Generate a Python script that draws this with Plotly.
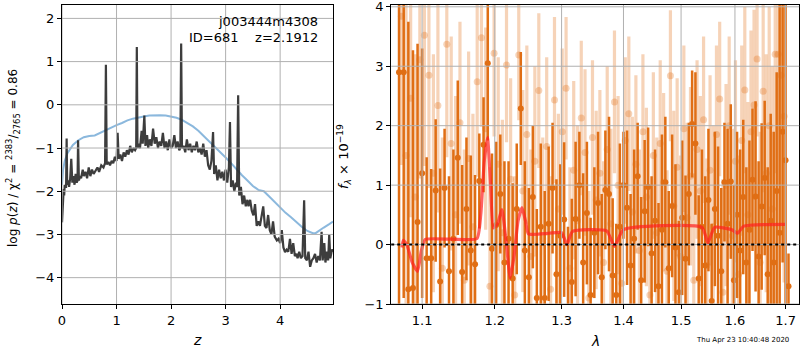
import plotly.graph_objects as go

# ---------------- left panel: log p(z) ----------------
pz_z = [0.00, 0.01, 0.02, 0.03, 0.04, 0.05, 0.06, 0.075, 0.085, 0.095, 0.11, 0.13, 0.15, 0.17, 0.19,
        0.21, 0.23, 0.25, 0.27, 0.285, 0.295, 0.31, 0.33, 0.35, 0.38, 0.40, 0.43, 0.46, 0.49, 0.52,
        0.55, 0.58, 0.62, 0.65, 0.68, 0.72, 0.76, 0.79, 0.805, 0.82, 0.85, 0.88, 0.91, 0.94, 0.97,
        1.00, 1.02, 1.04, 1.07, 1.10, 1.13, 1.16, 1.19, 1.22, 1.25, 1.28, 1.31, 1.34, 1.36, 1.372,
        1.384, 1.40, 1.43, 1.46, 1.48, 1.51, 1.53, 1.56, 1.58, 1.61, 1.64, 1.67, 1.70, 1.73, 1.76,
        1.79, 1.82, 1.85, 1.88, 1.91, 1.94, 1.97, 2.00, 2.03, 2.06, 2.09, 2.12, 2.15, 2.17, 2.185,
        2.20, 2.23, 2.26, 2.29, 2.32, 2.35, 2.38, 2.41, 2.44, 2.47, 2.50, 2.53, 2.56, 2.59, 2.62,
        2.65, 2.68, 2.71, 2.74, 2.77, 2.79, 2.82, 2.85, 2.88, 2.91, 2.94, 2.97, 3.00, 3.03, 3.06,
        3.08, 3.10, 3.13, 3.16, 3.19, 3.21, 3.23, 3.25, 3.28, 3.31, 3.34, 3.37, 3.40, 3.42, 3.45,
        3.48, 3.51, 3.54, 3.57, 3.60, 3.63, 3.66, 3.69, 3.72, 3.75, 3.78, 3.81, 3.84, 3.87, 3.90,
        3.94, 3.97, 4.00, 4.03, 4.06, 4.09, 4.12, 4.15, 4.18, 4.21, 4.24, 4.27, 4.30, 4.32, 4.35,
        4.38, 4.41, 4.44, 4.46, 4.49, 4.52, 4.55, 4.58, 4.61, 4.64, 4.67, 4.70, 4.73, 4.76, 4.78,
        4.81, 4.83, 4.86, 4.88, 4.90, 4.92, 4.95, 4.97]
pz_log = [-2.72, -2.30, -2.05, -1.95, -2.10, -1.85, -1.90, -1.90, -0.78, -1.85, -1.75, -1.90, -1.70, -1.25, -1.80,
          -1.65, -1.85, -1.60, -1.80, -1.75, -0.82, -1.75, -1.65, -1.70, -1.50, -1.65, -1.55, -1.70, -1.45, -1.65,
          -1.50, -1.60, -1.50, -1.45, -1.55, -1.40, -1.45, -1.35, 0.93, -1.38, -1.32, -1.40, -1.30, -1.35, -1.20,
          -1.30, -0.65, -1.25, -1.15, -1.30, -1.10, -1.20, -1.05, -1.15, -0.95, -1.10, -1.00, -1.05, -1.00, 1.34,
          -1.00, -0.90, -1.00, -0.60, -0.90, -0.25, -0.95, -0.70, -1.00, -0.80, -0.95, -0.55, -0.90, -0.75, -1.00,
          -0.85, -0.95, -0.65, -1.00, -0.85, -1.05, -0.80, -1.00, -0.95, -0.70, -1.00, -0.85, -1.05, -1.00, 1.42,
          -1.00, -0.95, -1.10, -0.80, -1.05, -0.90, -1.10, -0.95, -1.05, -0.85, -1.10, -1.00, -1.15, -0.90, -1.20,
          -1.05, -1.40, -1.50, -1.30, -0.63, -1.60, -1.40, -1.75, -1.50, -1.70, -1.55, -1.75, -1.50, -1.80, -1.45,
          -0.40, -1.90, -1.75, -2.00, -1.80, -1.90, 0.22, -2.10, -1.90, -2.30, -2.10, -2.35, -2.20, -2.35, -2.20,
          -2.45, -2.56, -2.30, -2.80, -2.70, -2.80, -2.60, -2.35, -2.80, -2.85, -2.55, -2.90, -3.00, -2.70, -3.05,
          -3.14, -3.10, -3.20, -2.90, -3.30, -3.41, -3.35, -3.40, -3.10, -3.45, -3.20, -3.50, -3.45, -3.55, -3.40,
          -3.55, -3.50, -2.21, -3.55, -3.60, -3.40, -3.75, -3.60, -3.55, -3.45, -3.65, -3.50, -3.60, -2.94, -3.60,
          -3.20, -3.65, -3.40, -3.60, -3.00, -3.55, -3.35, -3.40]

chi_z = [0.0, 0.02, 0.05, 0.1, 0.2, 0.3, 0.4, 0.5, 0.6, 0.7, 0.8, 0.9, 1.0, 1.1, 1.2, 1.3, 1.4, 1.5, 1.6, 1.7,
         1.8, 1.9, 2.0, 2.1, 2.2, 2.3, 2.4, 2.5, 2.6, 2.7, 2.8, 2.9, 3.0, 3.1, 3.2, 3.3, 3.4, 3.5, 3.6,
         3.7, 3.8, 3.9, 4.0, 4.1, 4.2, 4.3, 4.4, 4.5, 4.6, 4.65, 4.7, 4.8, 4.9, 4.97]
chi_val = [-1.85, -1.50, -1.30, -1.12, -0.93, -0.82, -0.75, -0.72, -0.71, -0.65, -0.58, -0.53, -0.47, -0.42, -0.36,
           -0.32, -0.29, -0.27, -0.25, -0.24, -0.24, -0.25, -0.27, -0.30, -0.35, -0.42, -0.50, -0.60, -0.72,
           -0.85, -0.97, -1.10, -1.22, -1.35, -1.50, -1.63, -1.75, -1.88, -1.97, -2.00, -2.12, -2.25, -2.37,
           -2.50, -2.60, -2.72, -2.83, -2.92, -2.97, -2.97, -2.92, -2.84, -2.76, -2.70]

left_xticks = [0, 1, 2, 3, 4]
left_yticks = [-4, -3, -2, -1, 0, 1, 2]

# ---------------- right panel: spectrum ----------------
dark_wave = [1.070, 1.076, 1.082, 1.088, 1.094, 1.100, 1.106, 1.112, 1.118, 1.124, 1.130, 1.136, 1.142, 1.148,
             1.154, 1.160, 1.166, 1.172, 1.178, 1.184, 1.190, 1.196, 1.202, 1.208, 1.214, 1.220, 1.226, 1.232,
             1.238, 1.244, 1.250, 1.256, 1.262, 1.268, 1.274, 1.280, 1.286, 1.292, 1.298, 1.304, 1.310, 1.316,
             1.322, 1.328, 1.334, 1.340, 1.346, 1.352, 1.358, 1.364, 1.370, 1.376, 1.382, 1.388, 1.394, 1.400,
             1.406, 1.412, 1.418, 1.424, 1.430, 1.436, 1.442, 1.448, 1.454, 1.460, 1.466, 1.472, 1.478, 1.484,
             1.490, 1.496, 1.502, 1.508, 1.514, 1.520, 1.526, 1.532, 1.538, 1.544, 1.550, 1.556, 1.562, 1.568,
             1.574, 1.580, 1.586, 1.592, 1.598, 1.604, 1.610, 1.616, 1.622, 1.628, 1.634, 1.640, 1.646, 1.652,
             1.658, 1.664, 1.670, 1.676, 1.682, 1.688, 1.694, 1.700, 1.706]
dark_flux = [2.90, 2.90, -0.75, -0.73, 0.38, 1.20, -0.23, -0.23, 0.91, -0.62, 0.95, -0.45, 0.10, 1.46,
             -0.46, 0.60, -0.10, -0.33, 1.07, 1.68, 3.05, -0.07, 0.33, 0.85, -0.30, 0.10, -0.57, 0.60,
             2.29, -0.10, -0.55, 0.80, -0.90, 0.30, -0.90, 0.35, 0.95, -0.50, 0.15, 0.42, -1.20, -0.63,
             0.43, 1.00, -0.30, 0.53, -0.85, 0.20, 0.70, -0.55, 0.92, 0.85, -0.52, -0.85, 0.30, 1.00,
             0.62, -0.35, 0.10, 1.15, -0.60, 0.56, 0.97, -0.15, 0.40, -0.70, 0.25, 1.05, -0.40, 0.65,
             -0.05, -0.80, 0.45, -0.24, 0.85, 2.03, 1.70, -0.57, 0.30, -0.35, 0.75, -0.95, 0.60, 0.15,
             -0.45, 1.05, 0.35, 1.06, -0.60, 0.50, -0.10, 0.80, -0.30, 0.25, 1.09, 0.81, -0.20, 0.64,
             1.12, -0.50, 0.40, -0.30, 0.90, 0.20, 1.90, 1.42, -0.70]
dark_err = [4.2, 3.8, 4.5, 4.0, 3.0, 2.1, 1.7, 1.5, 1.2, 1.9, 1.0, 1.6, 1.5, 1.3,
            1.8, 1.2, 1.6, 1.5, 0.8, 0.8, 1.3, 1.6, 1.4, 1.0, 1.7, 1.3, 1.6, 1.1,
            0.95, 1.5, 1.5, 1.2, 1.5, 1.4, 1.8, 1.3, 1.1, 1.6, 1.2, 1.3, 1.5, 1.4,
            1.3, 0.9, 1.5, 1.2, 1.3, 1.1, 1.2, 1.4, 1.0, 1.3, 1.3, 1.2, 1.4, 0.9,
            1.3, 1.2, 1.5, 0.9, 1.4, 1.2, 1.0, 1.3, 1.2, 1.4, 1.6, 1.1, 1.3, 1.2,
            1.4, 1.2, 1.3, 1.4, 1.2, 0.9, 1.2, 1.4, 1.3, 1.5, 1.2, 1.3, 1.3, 1.5,
            1.4, 1.0, 1.6, 1.3, 1.6, 1.4, 1.7, 1.3, 1.6, 1.5, 1.2, 1.6, 1.6, 1.4,
            1.3, 1.8, 1.8, 2.2, 2.0, 3.9, 2.2, 2.7, 0.55]

light_wave = [1.073, 1.079, 1.085, 1.091, 1.097, 1.103, 1.109, 1.115, 1.121, 1.127, 1.133, 1.139, 1.145,
              1.151, 1.157, 1.163, 1.169, 1.175, 1.181, 1.187, 1.193, 1.199, 1.205, 1.211, 1.217, 1.223,
              1.229, 1.235, 1.241, 1.247, 1.253, 1.259, 1.265, 1.271, 1.277, 1.283, 1.289, 1.295, 1.301,
              1.307, 1.313, 1.319, 1.325, 1.331, 1.337, 1.343, 1.349, 1.355, 1.361, 1.367, 1.373, 1.379,
              1.385, 1.391, 1.397, 1.403, 1.409, 1.415, 1.421, 1.427, 1.433, 1.439, 1.445, 1.451, 1.457,
              1.463, 1.469, 1.475, 1.481, 1.487, 1.493, 1.499, 1.505, 1.511, 1.517, 1.523, 1.529, 1.535,
              1.541, 1.547, 1.553, 1.559, 1.565, 1.571, 1.577, 1.583, 1.589, 1.595, 1.601, 1.607, 1.613,
              1.619, 1.625, 1.631, 1.637, 1.643, 1.649, 1.655, 1.661, 1.667, 1.673, 1.679, 1.685, 1.691,
              1.697]
light_flux = [3.84, 1.50, 2.46, 0.80, 3.11, 3.52, 2.85, 1.20, 2.34, -0.40, 3.37, 1.70, 0.50,
              2.05, -0.60, 1.45, 0.30, 2.74, 3.48, 1.95, -0.70, 3.22, 1.35, 0.20, 3.02, 1.10,
              -0.85, 3.19, 0.90, 1.85, -0.20, 1.40, 2.59, 0.10, 1.65, -0.75, 2.43, 0.60, 1.90,
              2.63, -0.40, 1.25, 0.40, 2.13, 1.55, -0.90, 1.80, 0.75, 1.20, -0.30, 1.60, 0.35,
              2.40, 1.00, -0.65, 1.75, 2.20, 0.55, 1.35, -0.10, 1.90, 0.80, -0.85, 1.50, 0.20,
              1.70, 1.05, -0.45, 2.84, 0.65, 1.30, -0.20, 1.95, 0.45, 1.15, -0.60, 1.60, 0.90,
              2.10, -0.35, 1.25, 0.30, 1.85, 2.45, -0.80, 1.00, 2.00, 0.15, 1.40, -0.50, 1.75,
              2.60, 0.50, 1.90, 2.35, 3.12, -0.30, 2.58, 1.20, 2.00, 0.60, 3.20, 3.20, 2.85,
              2.16]
light_err = [2.5, 3.0, 2.0, 2.4, 2.0, 2.2, 1.9, 2.0, 1.8, 2.2, 1.9, 1.8, 2.0,
             1.7, 2.2, 1.8, 1.9, 1.6, 1.5, 1.7, 2.0, 1.4, 1.8, 1.9, 1.3, 1.7,
             2.0, 1.1, 1.7, 1.5, 1.8, 1.6, 1.3, 1.7, 1.5, 1.9, 1.4, 1.6, 1.4,
             1.2, 1.7, 1.5, 1.6, 1.3, 1.4, 1.8, 1.3, 1.5, 1.4, 1.7, 1.4, 1.6,
             1.2, 1.5, 1.7, 1.4, 1.3, 1.6, 1.5, 1.7, 1.3, 1.5, 1.8, 1.4, 1.6,
             1.4, 1.5, 1.7, 1.1, 1.6, 1.5, 1.7, 1.4, 1.6, 1.5, 1.8, 1.5, 1.6,
             1.4, 1.8, 1.6, 1.7, 1.5, 1.3, 1.9, 1.7, 1.5, 1.8, 1.7, 2.0, 1.6,
             1.4, 1.9, 1.7, 1.6, 1.3, 2.2, 1.7, 2.0, 2.0, 2.4, 2.0, 2.2, 2.5,
             2.8]

model_wave = [1.0737, 1.0755, 1.080, 1.087, 1.094, 1.099, 1.104, 1.140, 1.1746, 1.180, 1.185, 1.1896,
              1.194, 1.198, 1.204, 1.2103, 1.216, 1.2224, 1.228, 1.234, 1.2397, 1.245, 1.2495, 1.280,
              1.300, 1.3083, 1.317, 1.372, 1.385, 1.400, 1.538, 1.549, 1.5615, 1.594, 1.605, 1.617, 1.700]
model_flux = [-0.05, 0.07, 0.00, -0.30, -0.45, -0.10, 0.085, 0.09, 0.10, 0.50, 1.40, 1.80,
              1.00, 0.28, 0.35, 0.59, 0.10, -0.56, -0.20, 0.40, 0.62, 0.40, 0.18, 0.19,
              0.20, 0.00, 0.22, 0.23, -0.03, 0.25, 0.29, 0.03, 0.29, 0.25, 0.19, 0.31, 0.34]

right_xticks = [1.1, 1.2, 1.3, 1.4, 1.5, 1.6, 1.7]
right_yticks = [-1, 0, 1, 2, 3, 4]

ORANGE = "rgb(224,110,20)"
LIGHT = "rgba(224,110,20,0.3)"
FONT = "DejaVu Sans"
NB = "\u00a0"

fig = go.Figure()

fig.add_trace(go.Scatter(x=chi_z, y=chi_val, mode="lines", xaxis="x", yaxis="y",
                         line=dict(color="rgba(100,160,210,0.75)", width=2), showlegend=False))
fig.add_trace(go.Scatter(x=pz_z, y=pz_log, mode="lines", xaxis="x", yaxis="y",
                         line=dict(color="rgba(40,40,40,0.9)", width=2.2), showlegend=False))

fig.add_trace(go.Scatter(x=light_wave, y=light_flux, mode="markers", xaxis="x2", yaxis="y2",
                         marker=dict(color=LIGHT, size=7, line=dict(width=0)),
                         error_y=dict(type="data", array=light_err, color=LIGHT, thickness=3.2, width=0),
                         showlegend=False))
fig.add_trace(go.Scatter(x=dark_wave, y=dark_flux, mode="markers", xaxis="x2", yaxis="y2",
                         marker=dict(color=ORANGE, size=6, line=dict(width=0)),
                         error_y=dict(type="data", array=dark_err, color=ORANGE, thickness=2.5, width=0),
                         showlegend=False))
fig.add_trace(go.Scatter(x=model_wave, y=model_flux, mode="lines", xaxis="x2", yaxis="y2",
                         line=dict(color="rgba(255,30,30,0.7)", width=3.2, shape="spline", smoothing=0.5),
                         showlegend=False))

shapes = []
grid = dict(color="#b0b0b0", width=1)
for v in left_xticks:
    shapes.append(dict(type="line", xref="x", yref="y domain", x0=v, x1=v, y0=0, y1=1, line=grid, layer="above"))
for v in left_yticks:
    shapes.append(dict(type="line", xref="x domain", yref="y", x0=0, x1=1, y0=v, y1=v, line=grid, layer="above"))
for v in right_xticks:
    shapes.append(dict(type="line", xref="x2", yref="y2 domain", x0=v, x1=v, y0=0, y1=1, line=grid, layer="above"))
for v in right_yticks:
    shapes.append(dict(type="line", xref="x2 domain", yref="y2", x0=0, x1=1, y0=v, y1=v, line=grid, layer="above"))
shapes.append(dict(type="line", xref="x2 domain", yref="y2", x0=0, x1=1, y0=0, y1=0,
                   line=dict(color="black", width=2, dash="dot"), layer="above"))

axis_common = dict(showline=True, linecolor="black", linewidth=1, mirror=True, ticks="outside",
                   ticklen=4, tickcolor="black", showgrid=False, zeroline=False, automargin=False,
                   ticklabeloverflow="allow",
                   tickfont=dict(family=FONT, size=13, color="black"))


def label(text, x, y, size=13, angle=0, xanchor="center"):
    return dict(text=text, xref="paper", yref="paper", x=x / 800, y=1 - y / 350, textangle=angle,
                xanchor=xanchor, yanchor="middle", showarrow=False,
                font=dict(family=FONT, size=size, color="black"))


fig.update_layout(
    width=800, height=350, margin=dict(l=0, r=0, t=0, b=0, pad=0, autoexpand=False),
    paper_bgcolor="white", plot_bgcolor="white",
    xaxis=dict(domain=[0.0775, 0.4163], range=[0, 4.97], tickvals=left_xticks, anchor="y",
               layer="above traces", **axis_common),
    yaxis=dict(domain=[0.1314, 0.9857], range=[-4.61, 2.31], tickvals=left_yticks, anchor="x",
               ticktext=["\u22124", "\u22123", "\u22122", "\u22121", "0", "1", "2"],
               layer="above traces", **axis_common),
    xaxis2=dict(domain=[0.489, 0.999], type="log", range=[0.02531, 0.23754], tickvals=right_xticks,
                ticktext=["1.1", "1.2", "1.3", "1.4", "1.5", "1.6", "1.7"], anchor="y2",
                layer="above traces", **axis_common),
    yaxis2=dict(domain=[0.1314, 0.9857], range=[-1, 4.03], tickvals=right_yticks, anchor="x2",
                ticktext=["\u22121", "0", "1", "2", "3", "4"], layer="above traces", **axis_common),
    shapes=shapes,
    annotations=[
        label("j003444m4308", 320, 22, xanchor="right"),
        label("ID=681" + NB * 4 + "z=2.1912", 320, 38, xanchor="right"),
        label("<i>z</i>", 197, 340, size=14),
        label("<i>λ</i>", 595, 341, size=14),
        label("log <i>p</i>(<i>z</i>) / χ<sup>2</sup> = <sup>2383</sup>/<sub>2765</sub> = 0.86",
              13, 158, size=12, angle=-90),
        label("<i>f</i><sub><i>λ</i></sub> × 10<sup>−19</sup>", 344, 157, angle=-90),
        label("Thu Apr 23 10:40:48 2020", 742, 340, size=7),
    ],
)

fig.write_html("out.html")
